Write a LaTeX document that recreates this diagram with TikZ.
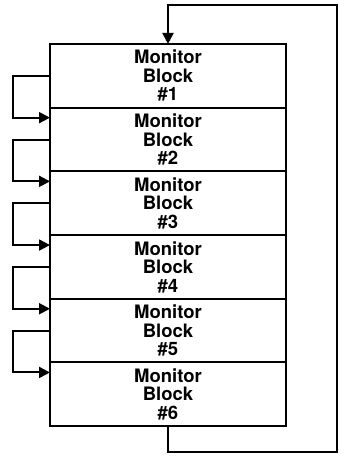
\documentclass[tikz,border=0pt]{standalone}
\usepackage{fontspec}
\setmainfont{TeX Gyre Heros}
\usepackage{tikz}
\usetikzlibrary{arrows.meta, positioning}

\begin{document}
\begin{tikzpicture}[
  x=1pt, y=-1pt,
  node distance=0pt,
  mblock/.style={rectangle, draw, line width=2pt, outer sep=0pt, inner sep=0pt,
                 minimum width=236pt, minimum height=63.7pt, align=center,
                 font=\fontsize{18.5}{18.5}\selectfont\bfseries},
  arrow/.style={-{Triangle[length=11pt,width=11pt]}, line width=2pt}
]
\useasboundingbox (0,0) rectangle (344,456);

\node[mblock] (mb1) at (168,75.8) {Monitor\\Block\\\#1};
\node[mblock, below=of mb1] (mb2) {Monitor\\Block\\\#2};
\node[mblock, below=of mb2] (mb3) {Monitor\\Block\\\#3};
\node[mblock, below=of mb3] (mb4) {Monitor\\Block\\\#4};
\node[mblock, below=of mb4] (mb5) {Monitor\\Block\\\#5};
\node[mblock, below=of mb5] (mb6) {Monitor\\Block\\\#6};

\coordinate (ret) at (337,452);

% block to block
\draw[arrow] (mb1.west) -- ++(-37,0) |- ([yshift=-10pt]mb2.north west);
\draw[arrow] (mb2.west) -- ++(-37,0) |- ([yshift=-10pt]mb3.north west);
\draw[arrow] (mb3.west) -- ++(-37,0) |- ([yshift=-10pt]mb4.north west);
\draw[arrow] (mb4.west) -- ++(-37,0) |- ([yshift=-10pt]mb5.north west);
\draw[arrow] (mb5.west) -- ++(-37,0) |- ([yshift=-10pt]mb6.north west);

% back to the first block
\draw[arrow] (mb6.south) |- (ret) |- ([yshift=39pt]mb1.north) -- (mb1.north);

\end{tikzpicture}
\end{document}
